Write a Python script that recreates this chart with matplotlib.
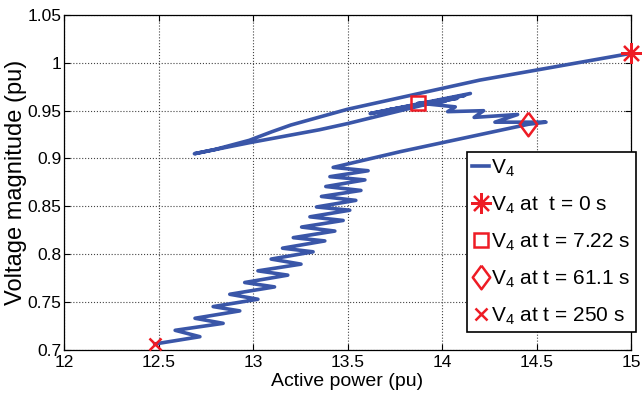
import matplotlib
matplotlib.use("Agg")
import matplotlib.pyplot as plt

plt.rcParams.update({
    "font.family": ["Liberation Sans", "DejaVu Sans"],
    "mathtext.fontset": "custom",
    "mathtext.rm": "Liberation Sans",
    "mathtext.it": "Liberation Sans:italic",
    "font.size": 13,
})

# V4 trajectory in the P-V plane (in time order)
power_pu = [
    # fast transient from t = 0 down to the tip
    15.00, 14.20, 13.50, 13.20, 13.10, 12.98, 12.80, 12.69,
    # return branch and oscillations around t = 7.22 s
    12.98, 13.35, 13.50, 14.15, 13.62, 14.12, 13.66, 14.08, 13.72, 14.02, 13.875,
    # slow drift to the right until t = 61.1 s
    14.07, 14.03, 14.22, 14.17, 14.40, 14.28, 14.55, 14.457,
    # collapse with oscillations until t = 250 s
    13.78, 13.424, 13.609, 13.407, 13.592, 13.385, 13.571, 13.362, 13.544,
    13.336, 13.512, 13.301, 13.477, 13.257, 13.433, 13.213, 13.380, 13.156,
    13.318, 13.096, 13.254, 13.026, 13.184, 12.956, 13.114, 12.877, 13.026,
    12.789, 12.930, 12.693, 12.842, 12.588, 12.719, 12.48,
]
voltage_pu = [
    1.010, 0.982, 0.9515, 0.935, 0.928, 0.919, 0.9095, 0.905,
    0.9165, 0.930, 0.9365, 0.968, 0.947, 0.966, 0.948, 0.963, 0.951, 0.960, 0.958,
    0.954, 0.949, 0.950, 0.943, 0.946, 0.938, 0.938, 0.9358,
    0.9072, 0.8907, 0.8872, 0.8810, 0.8776, 0.8707, 0.8666, 0.8603, 0.8562,
    0.8493, 0.8459, 0.8390, 0.8352, 0.8283, 0.8241, 0.8172, 0.8138, 0.8062,
    0.8024, 0.7948, 0.7895, 0.7825, 0.7780, 0.7703, 0.7657, 0.7580, 0.7528,
    0.7451, 0.7406, 0.7329, 0.7276, 0.7203, 0.7136, 0.706,
]

# marked instants
event_labels = ["V$_4$ at  t = 0 s", "V$_4$ at t = 7.22 s",
                "V$_4$ at t = 61.1 s", "V$_4$ at t = 250 s"]
event_p = [15.00, 13.875, 14.457, 12.48]
event_v = [1.010, 0.958, 0.9358, 0.706]

xticks = [12, 12.5, 13, 13.5, 14, 14.5, 15]
yticks = [0.7, 0.75, 0.8, 0.85, 0.9, 0.95, 1.0, 1.05]
ytick_labels = ["0.7", "0.75", "0.8", "0.85", "0.9", "0.95", "1", "1.05"]

BLUE = "#3a56a8"
RED = "#ee1c25"

diamond = [(0, 1), (0.74, 0), (0, -1), (-0.74, 0), (0, 1)]
markers = [
    dict(marker=(8, 2, 0), markersize=15, markeredgewidth=1.6),
    dict(marker="s", markersize=10, markeredgewidth=1.8, markerfacecolor="none"),
    dict(marker=diamond, markersize=17, markeredgewidth=1.8, markerfacecolor="none"),
    dict(marker="x", markersize=9, markeredgewidth=1.8),
]

fig = plt.figure(figsize=(6.42, 3.97), dpi=100)
ax = fig.add_axes([0.0997, 0.1191, 0.8832, 0.8429])

ax.plot(power_pu, voltage_pu, color=BLUE, lw=2.6, label="V$_4$",
        solid_joinstyle="round", zorder=3)
for p, v, lab, mk in zip(event_p, event_v, event_labels, markers):
    ax.plot([p], [v], linestyle="none", color=RED, markeredgecolor=RED,
            label=lab, zorder=4, clip_on=False, **mk)

ax.set_xlim(12, 15)
ax.set_ylim(0.7, 1.05)
ax.set_xticks(xticks)
ax.set_xticklabels([f"{x:g}" for x in xticks])
ax.set_yticks(yticks)
ax.set_yticklabels(ytick_labels)
ax.grid(True, color="#444444", linestyle=":", linewidth=0.8)
ax.tick_params(direction="in", length=4, width=0.8, top=True, right=True,
               labelsize=12.5)
ax.tick_params(axis="x", pad=4)
ax.tick_params(axis="y", pad=2)
for s in ax.spines.values():
    s.set_linewidth(0.9)

ax.set_xlabel("Active power (pu)", fontsize=14, labelpad=2)
ax.set_ylabel("Voltage magnitude (pu)", fontsize=17, labelpad=0)

leg = ax.legend(loc="upper left", bbox_to_anchor=(467 / 642, 1 - 152 / 397),
                bbox_transform=fig.transFigure, fontsize=15, frameon=True,
                fancybox=False, framealpha=1, edgecolor="black",
                borderaxespad=0, borderpad=0.25, labelspacing=0.76,
                handlelength=0.8, handletextpad=0.1, markerscale=1.0)
leg.get_frame().set_linewidth(1.2)
leg.set_zorder(10)

fig.savefig("out.png", dpi=100)
